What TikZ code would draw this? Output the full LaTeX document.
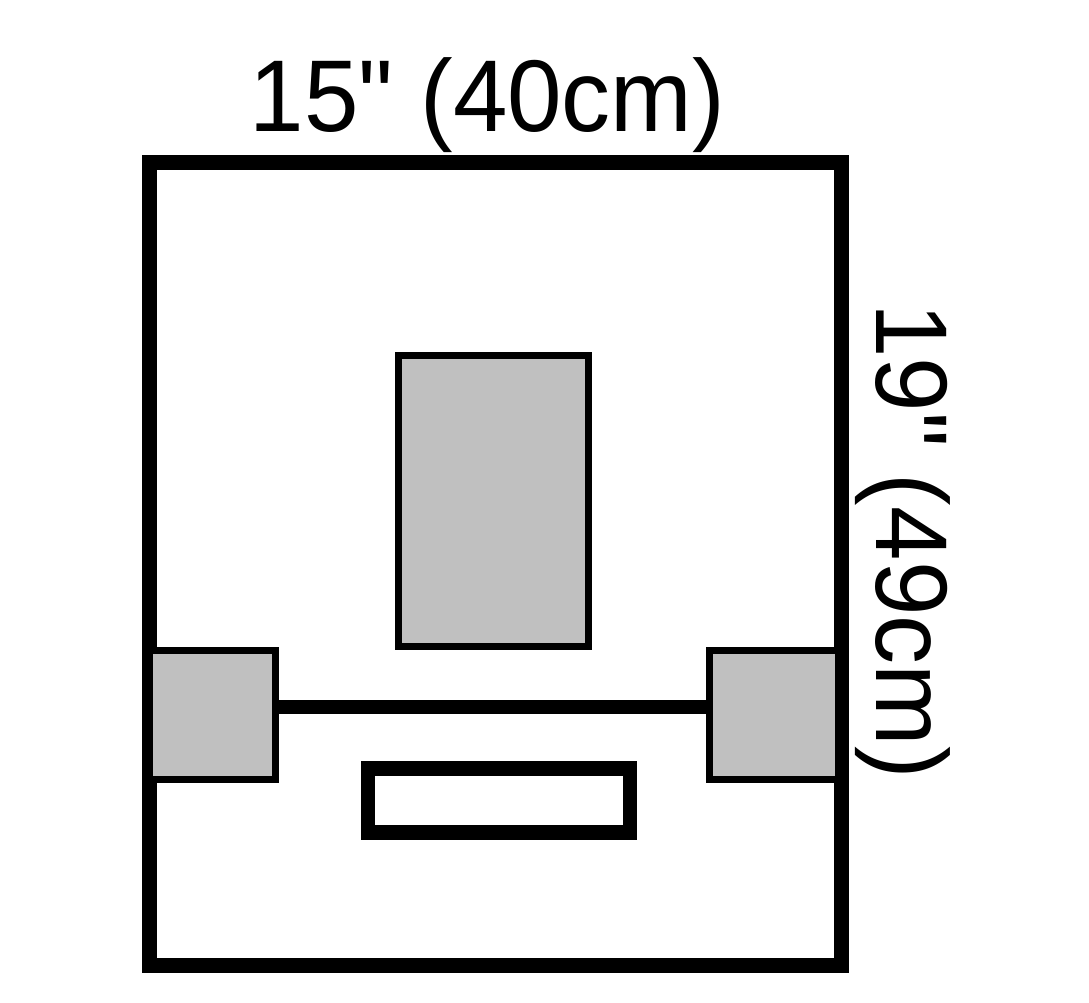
\documentclass[tikz,border=0pt]{standalone}
\usepackage{graphicx}
\usepackage{fontspec}
\setmainfont{Liberation Sans}[Ligatures=TeXOff]
\definecolor{padgrey}{RGB}{192,192,192}
\begin{document}
\begin{tikzpicture}[x=1pt,y=1pt,
  frame/.style={draw=black, line width=15pt, inner sep=0pt, outer sep=0pt},
  greybox/.style={draw=black, fill=padgrey, line width=7pt, inner sep=0pt},
  slot/.style={draw=black, fill=white, line width=14.5pt, inner sep=0pt},
  bar/.style={draw=black, line width=14pt},
  dimtext/.style={font=\fontsize{102}{102}\selectfont, inner sep=0pt, anchor=base}]
\useasboundingbox[fill=white] (0,0) rectangle (1089,1002);
\node[frame, minimum width=692pt, minimum height=803pt] (outer) at (495.5,438) {};
\node[greybox, minimum width=190pt, minimum height=290.5pt] (window) at (493.6,501) {};
\node[greybox, minimum width=125.5pt, minimum height=129pt] (lpad) at (212.25,287) {};
\node[greybox, minimum width=129pt, minimum height=129pt] (rpad) at (773.5,287) {};
\node[slot, minimum width=262pt, minimum height=64.2pt] (slot) at (499,201.6) {};
\draw[bar] ([yshift=8pt]lpad.east) -- ([yshift=8pt]rpad.west);
\node[dimtext] (width) at (487.5,870.3) {\scalebox{0.96}[1]{15" (40cm)}};
\node[dimtext, rotate=-90] (height) at (876,461) {\scalebox{0.96}[1]{19" (49cm)}};
\end{tikzpicture}
\end{document}
